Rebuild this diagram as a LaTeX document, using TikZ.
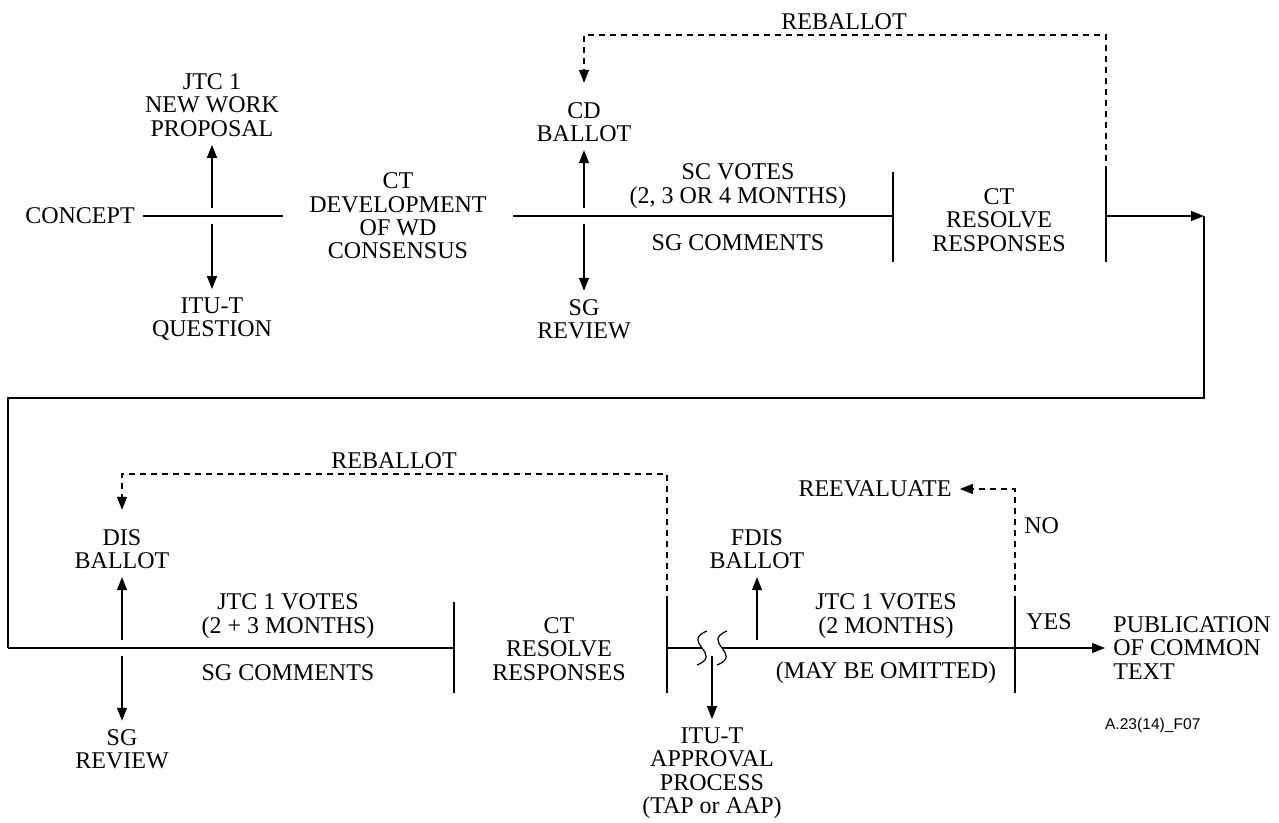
\documentclass[tikz,border=0pt]{standalone}
\usepackage{fontspec}
\setmainfont{Liberation Serif}
\newfontfamily\figfont{Liberation Sans}
\usetikzlibrary{arrows.meta}

\tikzset{
  lbl/.style={align=center, inner sep=4pt, font=\fontsize{12}{11.7}\selectfont},
  flow/.style={line width=0.6pt},
  arr/.style={flow, -{Triangle[length=6.5pt,width=5pt]}},
  vert/.style={arr, shorten <=4pt},
  reb/.style={arr, dash pattern=on 3pt off 2.5pt},
  rebal/.style={reb, shorten >=5.5pt}
}

\begin{document}
\begin{tikzpicture}[x=0.5pt, y=-0.5pt]
  \useasboundingbox (0,0) rectangle (1279,823);

  \coordinate (j1)  at (212,216);
  \coordinate (j2)  at (584,216);
  \coordinate (b1t) at (893,172);
  \coordinate (b1m) at (893,216);
  \coordinate (b1b) at (893,262);
  \coordinate (b2t) at (1106,172);
  \coordinate (b2m) at (1106,216);
  \coordinate (b2b) at (1106,262);
  \coordinate (cR)  at (1204,216);
  \coordinate (cRb) at (1204,398);
  \coordinate (cLb) at (8,398);
  \coordinate (cL)  at (8,648);

  \node (concept) [lbl] at (80,216) {CONCEPT};
  \node (jtc)     [lbl] at (212,105) {JTC 1\\NEW WORK\\PROPOSAL};
  \node (question)[lbl] at (212,319) {ITU-T\\QUESTION};
  \node (ctdev)   [lbl, inner xsep=13pt] at (398,216) {CT\\DEVELOPMENT\\OF WD\\CONSENSUS};
  \node (cd)      [lbl] at (584,122) {CD\\BALLOT};
  \node (sgrev1)  [lbl] at (584,319) {SG\\REVIEW};
  \node (scvotes) [lbl] at (738,186) {SC VOTES\\(2, 3 OR 4 MONTHS)};
  \node (sgcom1)  [lbl] at (738,243) {SG COMMENTS};
  \node (ctres1)  [lbl] at (999,220) {CT\\RESOLVE\\RESPONSES};
  \node (reb1)    [lbl] at (844,22) {REBALLOT};

  \draw [flow] (concept.east) -- (ctdev.west);
  \draw [flow] (ctdev.east) -- (b1m);
  \draw [flow] (b1t) -- (b1b);
  \draw [flow] (b2t) -- (b2b);
  \draw [vert] (j1) -- (jtc);
  \draw [vert] (j1) -- (question);
  \draw [vert] (j2) -- (cd);
  \draw [vert] (j2) -- (sgrev1);
  \draw [rebal] (b2t) -- ++(0,-137) -| (cd);
  \draw [arr] (b2m) -- (cR);
  \draw [flow] (cR) -- (cRb) -- (cLb) -- (cL);

  \coordinate (j3)  at (122,648);
  \coordinate (b3t) at (454,602);
  \coordinate (b3m) at (454,648);
  \coordinate (b3b) at (454,693);
  \coordinate (b4t) at (667,602);
  \coordinate (b4m) at (667,648);
  \coordinate (b4b) at (667,693);
  \coordinate (brk1) at (702,648);
  \coordinate (brk2) at (722,648);
  \coordinate (j4)  at (712,648);
  \coordinate (j5)  at (757,648);
  \coordinate (b5t) at (1015,602);
  \coordinate (b5b) at (1015,693);

  \node (dis)     [lbl] at (122,549) {DIS\\BALLOT};
  \node (sgrev2)  [lbl] at (122,749) {SG\\REVIEW};
  \node (jvotes1) [lbl] at (288,616) {JTC 1 VOTES\\(2 + 3 MONTHS)};
  \node (sgcom2)  [lbl] at (288,673) {SG COMMENTS};
  \node (ctres2)  [lbl] at (559,649) {CT\\RESOLVE\\RESPONSES};
  \node (reb2)    [lbl] at (394,461) {REBALLOT};
  \node (approval)[lbl] at (712,773) {ITU-T\\APPROVAL\\PROCESS\\(TAP or AAP)};
  \node (fdis)    [lbl] at (757,549) {FDIS\\BALLOT};
  \node (jvotes2) [lbl] at (886,616) {JTC 1 VOTES\\(2 MONTHS)};
  \node (omit)    [lbl] at (886,673) {(MAY BE OMITTED)};
  \node (reeval)  [lbl] at (875,489) {REEVALUATE};
  \node (no)      [lbl, anchor=west] at (1016,526) {NO};
  \node (yes)     [lbl, anchor=west] at (1018,622) {YES};
  \node (pub)     [lbl, align=left, anchor=west] at (1105,648) {PUBLICATION\\OF COMMON\\TEXT};
  \node (figid)   [font=\figfont\fontsize{7.8}{9}\selectfont, anchor=west] at (1098,725) {A.23(14)\_F07};

  \draw [flow] (cL) -- (b3m);
  \draw [flow] (b3t) -- (b3b);
  \draw [flow] (b4t) -- (b4b);
  \draw [flow] (b5t) -- (b5b);
  \draw [flow] (b4m) -- (brk1);
  \foreach \b in {brk1,brk2}
    \draw [flow] ([shift={(5,-17)}]\b) .. controls ([shift={(-22,-6)}]\b) and ([shift={(22,6)}]\b) .. ([shift={(-5,17)}]\b);
  \draw [arr] (brk2) -- (pub.west);
  \draw [vert] (j3) -- (dis);
  \draw [vert] (j3) -- (sgrev2);
  \draw [vert] (j4) -- (approval);
  \draw [vert] (j5) -- (fdis);
  \draw [rebal] (b4t) -- ++(0,-128) -| (dis);
  \draw [reb] (b5t) -- ++(0,-113) -- (reeval);
\end{tikzpicture}
\end{document}
